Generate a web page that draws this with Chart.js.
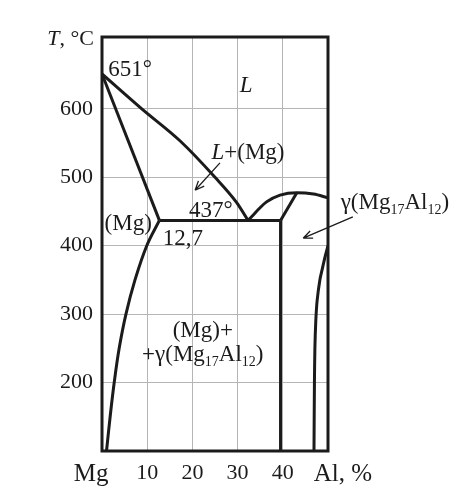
<!DOCTYPE html>
<html>
<head>
<meta charset="utf-8">
<script src="https://cdn.jsdelivr.net/npm/chart.js@4/dist/chart.umd.min.js"></script>
<style>
  html, body { margin: 0; padding: 0; background: #fff; }
  #wrap { width: 474px; height: 498px; }
</style>
</head>
<body>
<div id="wrap"><canvas id="phaseChart" width="474" height="498"></canvas></div>
<script>
// Mg–Al phase diagram, Al in %, temperature in °C
const xTicks = [10, 20, 30, 40];
const yTicks = [200, 300, 400, 500, 600];

const liquidusAl = [0, 8.8, 17.3, 25, 29.8, 32.3];
const liquidusT = [651, 600, 553, 500, 463, 437];

const solidusAl = [0, 12.7];
const solidusT = [651, 437];

const solvusAl = [12.7, 9.9, 7.3, 5.3, 3.8, 2.7, 1.8, 1.0];
const solvusT = [437, 400, 350, 300, 250, 200, 150, 100];

const eutecticAl = [12.7, 39.5];
const eutecticT = [437, 437];

const gammaLeftAl = [39.5, 39.5];
const gammaLeftT = [437, 100];

const gammaLiqAl = [32.3, 36.4, 39.4, 43.1, 46.8, 50];
const gammaLiqT = [437, 464, 474, 477.5, 475.5, 470];

const gammaSolAl = [39.5, 43.1];
const gammaSolT = [437, 477.5];

const gammaRightAl = [50, 49.4, 48.7, 48.2, 47.6, 47.3, 47.1, 47.0, 46.9];
const gammaRightT = [400, 385, 365, 350, 320, 290, 250, 200, 100];

const FONT = "'Liberation Serif', 'Times New Roman', serif";
const INK = "#1b1b1b";

function pts(xs, ys) {
  return xs.map((x, i) => ({ x: x, y: ys[i] }));
}

function curve(xs, ys, smooth) {
  const ds = {
    data: pts(xs, ys),
    showLine: true,
    borderColor: INK,
    borderWidth: 3,
    pointRadius: 0,
    fill: false
  };
  if (smooth === "mono") ds.cubicInterpolationMode = "monotone";
  else if (smooth) ds.tension = smooth;
  return ds;
}

// text labels: [text, style] where style n = normal, i = italic, s = subscript
const labels = [
  { x: 6.2, t: 648, parts: [["651°", "n"]] },
  { x: 31.9, t: 625, parts: [["L", "i"]] },
  { x: 32.3, t: 527, parts: [["L", "i"], ["+(Mg)", "n"]] },
  { x: 24.1, t: 442, parts: [["437°", "n"]] },
  { x: 5.8, t: 423, parts: [["(Mg)", "n"]] },
  { x: 17.9, t: 401, parts: [["12,7", "n"]] },
  { x: 64.8, t: 453.6, parts: [["γ(Mg", "n"], ["17", "s"], ["Al", "n"], ["12", "s"], [")", "n"]] },
  { x: 22.3, t: 266.6, parts: [["(Mg)+", "n"]] },
  { x: 22.3, t: 231.5, parts: [["+γ(Mg", "n"], ["17", "s"], ["Al", "n"], ["12", "s"], [")", "n"]] }
];

const arrows = [
  { x1: 26.1, t1: 521, x2: 20.6, t2: 481 },
  { x1: 55.5, t1: 442, x2: 44.5, t2: 411 }
];

const axisWords = [
  { x: -2.4, text: "Mg" },
  { x: 53.3, text: "Al, %" }
];

function fontFor(style) {
  if (style === "i") return "italic 23px " + FONT;
  if (style === "s") return "14px " + FONT;
  return "23px " + FONT;
}

function drawRich(ctx, parts, cx, y) {
  let total = 0;
  parts.forEach(p => { ctx.font = fontFor(p[1]); total += ctx.measureText(p[0]).width; });
  let x = cx - total / 2;
  parts.forEach(p => {
    ctx.font = fontFor(p[1]);
    ctx.fillText(p[0], x, p[1] === "s" ? y + 5 : y);
    x += ctx.measureText(p[0]).width;
  });
}

const overlay = {
  id: "overlay",
  afterDatasetsDraw(chart) {
    const ctx = chart.ctx;
    const a = chart.chartArea;
    const xs = chart.scales.x, ys = chart.scales.y;
    ctx.save();
    // frame
    ctx.strokeStyle = INK;
    ctx.lineWidth = 3;
    ctx.strokeRect(a.left, a.top, a.right - a.left, a.bottom - a.top);

    ctx.fillStyle = INK;
    ctx.textBaseline = "alphabetic";
    ctx.textAlign = "left";
    labels.forEach(l => drawRich(ctx, l.parts, xs.getPixelForValue(l.x), ys.getPixelForValue(l.t)));

    // axis title
    ctx.textAlign = "right";
    const rest = ", °C";
    ctx.font = "22px " + FONT;
    const wRest = ctx.measureText(rest).width;
    ctx.fillText(rest, a.left - 8, a.top + 8);
    ctx.font = "italic 22px " + FONT;
    ctx.fillText("T", a.left - 8 - wRest, a.top + 8);

    ctx.textAlign = "center";
    ctx.font = "25px " + FONT;
    axisWords.forEach(w => ctx.fillText(w.text, xs.getPixelForValue(w.x), a.bottom + 30));

    // arrows
    ctx.lineWidth = 1.3;
    arrows.forEach(ar => {
      const x1 = xs.getPixelForValue(ar.x1), y1 = ys.getPixelForValue(ar.t1);
      const x2 = xs.getPixelForValue(ar.x2), y2 = ys.getPixelForValue(ar.t2);
      const ang = Math.atan2(y2 - y1, x2 - x1);
      ctx.beginPath();
      ctx.moveTo(x1, y1);
      ctx.lineTo(x2, y2);
      [-0.4, 0.4].forEach(d => {
        ctx.moveTo(x2, y2);
        ctx.lineTo(x2 - 10 * Math.cos(ang + d), y2 - 10 * Math.sin(ang + d));
      });
      ctx.stroke();
    });
    ctx.restore();
  }
};

new Chart(document.getElementById("phaseChart"), {
  type: "scatter",
  data: {
    datasets: [
      curve(liquidusAl, liquidusT, "mono"),
      curve(solidusAl, solidusT),
      curve(solvusAl, solvusT, 0.35),
      curve(eutecticAl, eutecticT),
      curve(gammaLeftAl, gammaLeftT),
      curve(gammaLiqAl, gammaLiqT, "mono"),
      curve(gammaSolAl, gammaSolT),
      curve(gammaRightAl, gammaRightT, 0.3)
    ]
  },
  options: {
    responsive: false,
    animation: false,
    layout: { padding: { left: 0, top: 37, right: 146, bottom: 0 } },
    plugins: { legend: { display: false }, tooltip: { enabled: false } },
    scales: {
      x: {
        type: "linear",
        min: 0,
        max: 50,
        afterBuildTicks: s => { s.ticks = xTicks.map(v => ({ value: v })); },
        afterFit: s => { s.height = 47; },
        grid: { color: "#b5b5b5", lineWidth: 1, drawTicks: false },
        border: { display: false },
        ticks: { font: { family: FONT, size: 22 }, color: INK, padding: 9, maxRotation: 0 }
      },
      y: {
        type: "linear",
        min: 100,
        max: 705,
        afterBuildTicks: s => { s.ticks = yTicks.map(v => ({ value: v })); },
        afterFit: s => { s.width = 102; },
        grid: { color: "#b5b5b5", lineWidth: 1, drawTicks: false },
        border: { display: false },
        ticks: { font: { family: FONT, size: 22 }, color: INK, padding: 9 }
      }
    }
  },
  plugins: [overlay]
});
</script>
</body>
</html>
